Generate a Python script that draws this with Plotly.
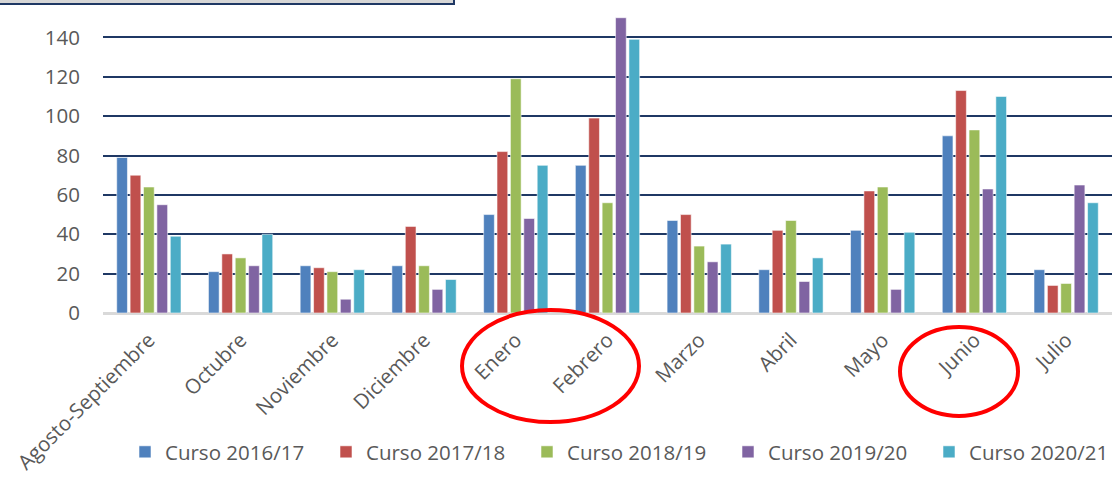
import plotly.graph_objects as go

categories = ["Agosto-Septiembre", "Octubre", "Noviembre", "Diciembre", "Enero",
              "Febrero", "Marzo", "Abril", "Mayo", "Junio", "Julio"]
series_names = ["Curso 2016/17", "Curso 2017/18", "Curso 2018/19", "Curso 2019/20", "Curso 2020/21"]
curso_2016_17 = [79, 21, 24, 24, 50, 75, 47, 22, 42, 90, 22]
curso_2017_18 = [70, 30, 23, 44, 82, 99, 50, 42, 62, 113, 14]
curso_2018_19 = [64, 28, 21, 24, 119, 56, 34, 47, 64, 93, 15]
curso_2019_20 = [55, 24, 7, 12, 48, 150, 26, 16, 12, 63, 65]
curso_2020_21 = [39, 40, 22, 17, 75, 139, 35, 28, 41, 110, 56]
colors = ["#4F81BD", "#C0504D", "#9BBB59", "#8064A2", "#4BACC6"]
y_ticks = [0, 20, 40, 60, 80, 100, 120, 140]

W, H = 1113, 478
L, R, T, B = 103, 1, 0, 165
PW = W - L - R
PH = H - T - B

def px(x):
    return (x - L) / PW

def py(y):
    return (T + PH - y) / PH

fig = go.Figure()
for name, vals, col in zip(series_names,
                           [curso_2016_17, curso_2017_18, curso_2018_19, curso_2019_20, curso_2020_21],
                           colors):
    fig.add_trace(go.Bar(x=categories, y=vals, name=name,
                         marker=dict(color=col, line=dict(color="rgba(255,255,255,0.55)", width=1))))

font_family = "'Open Sans', sans-serif"
FS = 20.5
fig.update_layout(
    width=W, height=H,
    margin=dict(l=L, r=R, t=T, b=B, autoexpand=False),
    paper_bgcolor="white", plot_bgcolor="white",
    barmode="group", bargap=0.27, bargroupgap=0.2,
    font=dict(family=font_family, color="#595959", size=FS),
    showlegend=True,
    legend=dict(orientation="h", x=px(125), xanchor="left", y=py(452), yanchor="middle",
                entrywidth=156, entrywidthmode="pixels", itemwidth=30,
                font=dict(size=FS, color="#595959"), bgcolor="rgba(0,0,0,0)",
                traceorder="normal"),
    xaxis=dict(tickangle=-45, showgrid=False, showline=False, ticks="",
               tickfont=dict(size=FS, color="#595959"), ticklabelstandoff=10,
               fixedrange=True),
    yaxis=dict(range=[0, 159], tickvals=y_ticks, showgrid=True,
               gridcolor="#1F3864", gridwidth=2,
               zeroline=True, zerolinecolor="#D9D9D9", zerolinewidth=3,
               showline=False, ticks="", ticklabelstandoff=22,
               tickfont=dict(size=FS, color="#595959"), fixedrange=True),
    shapes=[
        dict(type="rect", xref="paper", yref="paper",
             x0=px(-5), x1=px(454), y0=py(4), y1=py(-6),
             fillcolor="#D6D6D6", line=dict(color="#1F3864", width=2), layer="above"),
        dict(type="circle", xref="paper", yref="paper",
             x0=px(462), x1=px(639), y0=py(422), y1=py(310),
             line=dict(color="#FF0000", width=4), layer="above"),
        dict(type="circle", xref="paper", yref="paper",
             x0=px(900), x1=px(1018), y0=py(416), y1=py(327),
             line=dict(color="#FF0000", width=4), layer="above"),
    ],
)

fig.write_html("out.html", config={"displayModeBar": False},
               post_script="document.body.style.margin='0';document.body.style.overflow='hidden';")
